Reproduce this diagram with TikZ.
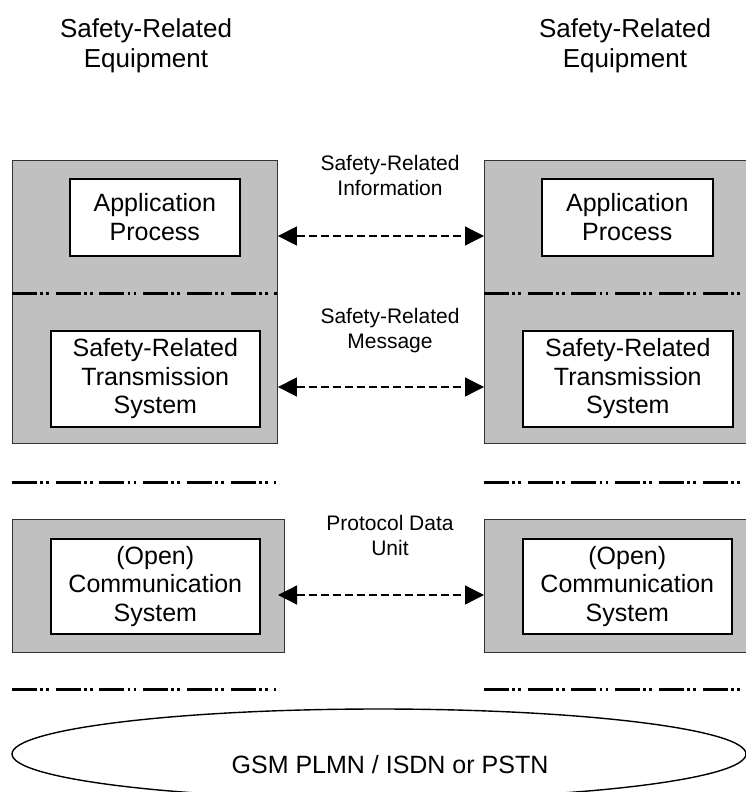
\documentclass[tikz,border=0pt]{standalone}
\usepackage{fontspec}
\setmainfont{Liberation Sans}
\usetikzlibrary{arrows.meta,shapes.geometric}
\definecolor{boxgray}{HTML}{C0C0C0}
\begin{document}
\begin{tikzpicture}[x=1pt,y=-1pt,
  grayblk/.style={draw=black!80, line width=0.9pt, fill=boxgray, inner sep=0pt, anchor=north west},
  innerbox/.style={draw=black, line width=1.6pt, fill=white, align=center,
    font=\fontsize{25}{28.5}\selectfont, inner sep=0pt, anchor=north west},
  sepline/.style={line width=3pt, dash pattern=on 25pt off 3.3pt on 2.7pt off 3.3pt on 2.7pt off 6.7pt},
  link/.style={line width=1.3pt, dash pattern=on 8pt off 4pt,
    {Triangle[length=19pt,width=19pt]}-{Triangle[length=19pt,width=19pt]}},
  lbl/.style={align=center, font=\fontsize{21}{25}\selectfont, inner sep=0pt},
  toplbl/.style={align=center, font=\fontsize{26}{30}\selectfont, inner sep=0pt}]
\useasboundingbox (0,0) rectangle (746,792);

% top labels
\node[toplbl] (eqL) at (146,45.3) {Safety-Related\\Equipment};
\node[toplbl] (eqR) at (625,45.3) {Safety-Related\\Equipment};

% upper gray blocks
\node[grayblk, minimum width=265, minimum height=283] (gl1) at (12,160) {};
\node[grayblk, minimum width=264, minimum height=283] (gr1) at (484,160) {};
\draw[sepline] (12,293) -- (277,293);
\draw[sepline] (484,293) -- (746,293);

\node[innerbox, minimum width=170, minimum height=77] (apL) at (69,178) {Application\\Process};
\node[innerbox, minimum width=171, minimum height=77] (apR) at (541,178) {Application\\Process};
\node[innerbox, minimum width=209, minimum height=96] (stL) at (50,330) {Safety-Related\\Transmission\\System};
\node[innerbox, minimum width=210, minimum height=96] (stR) at (522,330) {Safety-Related\\Transmission\\System};

% separators
\draw[sepline] (12,482) -- (276,482);
\draw[sepline] (484,482) -- (746,482);

% lower gray blocks
\node[grayblk, minimum width=272, minimum height=133] (gl2) at (12,519) {};
\node[grayblk, minimum width=264, minimum height=133] (gr2) at (484,519) {};
\node[innerbox, minimum width=209, minimum height=95] (ocL) at (50,538) {(Open)\\Communication\\System};
\node[innerbox, minimum width=209, minimum height=95] (ocR) at (522,538) {(Open)\\Communication\\System};

\draw[sepline] (12,689) -- (276,689);
\draw[sepline] (484,689) -- (746,689);

% middle labels
\node[lbl] (l1) at (390,175.5) {Safety-Related\\Information};
\node[lbl] (l2) at (390,331) {Safety-Related\\Message};
\node[lbl] (l3) at (390,535.5) {Protocol Data\\Unit};

% links
\coordinate (a1) at (0,236);
\coordinate (a2) at (0,387);
\coordinate (a3l) at (278,595);
\draw[link] (gl1.east |- a1) -- (gr1.west |- a1);
\draw[link] (gl1.east |- a2) -- (gr1.west |- a2);
\draw[link] (a3l) -- (gr2.west |- a3l);

% network
\node[ellipse, draw=black, line width=1.4pt, minimum width=734, minimum height=90, inner sep=0pt] (net) at (379,754) {};
\node[font=\fontsize{25}{28.5}\selectfont, inner sep=0pt] (nettxt) at (390,764.5) {GSM PLMN / ISDN or PSTN};
\end{tikzpicture}
\end{document}
